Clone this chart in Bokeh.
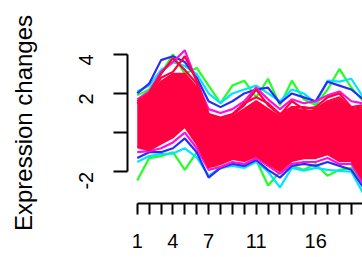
import math
from bokeh.plotting import figure
from bokeh.models import FixedTicker, Range1d
from bokeh.embed import file_html
from bokeh.resources import INLINE

# time points
time = list(range(1, 21))

# membership-coloured expression profiles
green_hi = [1.9, 2.2, 3.0, 4.0, 3.0, 3.3, 2.4, 1.5, 2.4, 2.65, 1.8, 2.75, 1.4, 2.65, 1.7, 1.4, 2.2, 3.25, 2.3, 1.6]
green_lo = [-2.45, -1.3, -1.2, -1.0, -1.9, -1.0, -1.6, -1.85, -1.6, -1.7, -1.4, -2.7, -2.0, -1.7, -1.9, -1.6, -2.2, -1.9, -1.8, -2.6]
cyan_hi = [2.1, 2.4, 3.2, 3.6, 3.4, 3.0, 2.0, 1.5, 2.0, 2.2, 2.4, 2.0, 1.6, 2.2, 2.0, 1.5, 2.65, 2.6, 2.75, 1.8]
cyan_lo = [-1.5, -1.2, -1.1, -1.07, -0.8, -1.27, -2.2, -1.8, -1.7, -1.8, -1.5, -2.0, -2.8, -1.8, -1.95, -1.8, -1.9, -1.95, -2.0, -3.1]
blue_hi = [2.0, 2.5, 3.7, 3.9, 3.6, 2.8, 1.6, 1.3, 1.6, 2.0, 2.2, 2.3, 1.5, 2.0, 1.8, 1.6, 2.6, 2.4, 2.2, 1.7]
blue_lo = [-1.3, -1.0, -1.0, -0.8, -0.3, -1.0, -2.3, -1.8, -1.6, -1.7, -1.4, -1.9, -2.3, -1.7, -1.6, -1.7, -1.5, -1.7, -1.9, -2.8]
magenta_hi = [1.7, 2.1, 3.1, 3.6, 4.2, 2.6, 1.2, 1.0, 1.2, 1.6, 2.3, 1.7, 1.2, 1.7, 1.5, 1.6, 1.9, 2.1, 1.6, 1.5]
magenta_lo = [-1.0, -0.95, -0.8, -0.5, 0.0, -0.8, -1.9, -1.75, -1.5, -1.6, -1.3, -1.7, -2.1, -1.6, -1.5, -1.5, -1.3, -1.6, -1.6, -2.6]
red_peak4 = [1.6, 2.0, 3.0, 3.8, 3.2, 2.5, 0.9, 0.7, 0.9, 1.4, 2.2, 1.4, 0.9, 1.6, 1.2, 1.3, 1.8, 2.0, 1.3, 1.4]
red_peak5 = [1.5, 1.9, 2.8, 3.1, 3.9, 2.65, 0.95, 0.77, 0.95, 1.5, 1.8, 1.5, 0.95, 1.3, 1.3, 1.2, 1.6, 1.8, 1.2, 1.3]
red_core_hi = [1.5, 1.8, 2.6, 3.0, 3.0, 2.3, 0.8, 0.6, 0.8, 1.2, 1.6, 1.2, 0.8, 1.3, 1.1, 1.1, 1.5, 1.7, 1.1, 1.2]
red_core_lo = [-0.75, -0.9, -0.56, -0.24, 0.3, -0.57, -1.77, -1.6, -1.35, -1.45, -1.2, -1.6, -1.95, -1.45, -1.3, -1.3, -1.1, -1.45, -1.45, -2.45]

y_tick_values = [-2, 0, 2, 4]
y_tick_labels = ["-2", "", "2", "4"]
x_tick_values = list(range(1, 25))
x_tick_labelled = [1, 4, 7, 11, 16, 21]

GREEN = "#22ff22"
CYAN = "#00e5ff"
BLUE = "#2a2aff"
MAGENTA = "#ff10d8"
RED = "#ff0040"

p = figure(width=362, height=257, output_backend="svg", toolbar_location=None,
           x_range=Range1d(0.18, 19.94), y_range=Range1d(-3.62, 4.6),
           min_border_left=127, min_border_right=0, min_border_top=42, min_border_bottom=54)
p.outline_line_color = None
p.xgrid.visible = False
p.ygrid.visible = False
p.background_fill_color = "white"

lw = 2.2
for series, col in [(green_hi, GREEN), (green_lo, GREEN), (cyan_hi, CYAN), (cyan_lo, CYAN),
                    (blue_hi, BLUE), (blue_lo, BLUE), (magenta_hi, MAGENTA), (magenta_lo, MAGENTA)]:
    p.line(time, series, line_color=col, line_width=lw)

p.varea(x=time, y1=red_core_lo, y2=red_core_hi, fill_color=RED)
for series in [red_peak4, red_peak5, red_core_hi, red_core_lo]:
    p.line(time, series, line_color=RED, line_width=lw)

FONT = "Liberation Sans"
# y axis
ya = p.yaxis[0]
ya.ticker = FixedTicker(ticks=y_tick_values)
ya.major_label_overrides = {v: l for v, l in zip(y_tick_values, y_tick_labels)}
ya.bounds = (min(y_tick_values), max(y_tick_values))
ya.minor_tick_line_color = None
ya.major_tick_out = 14
ya.major_tick_in = 0
ya.axis_line_width = 2
ya.major_tick_line_width = 2
ya.major_label_orientation = math.pi / 2
ya.major_label_text_font = FONT
ya.major_label_text_font_size = "20px"
ya.major_label_text_color = "black"
ya.major_label_standoff = 27
ya.axis_label = "Expression changes"
ya.axis_label_text_font = FONT
ya.axis_label_text_font_size = "24px"
ya.axis_label_text_font_style = "normal"
ya.axis_label_text_color = "black"
ya.axis_label_standoff = 33

# x axis
xa = p.xaxis[0]
xa.ticker = FixedTicker(ticks=x_tick_values)
xa.major_label_overrides = {v: (str(v) if v in x_tick_labelled else "") for v in x_tick_values}
xa.bounds = (min(x_tick_values), max(x_tick_values))
xa.minor_tick_line_color = None
xa.major_tick_out = 11
xa.major_tick_in = 0
xa.axis_line_width = 2
xa.major_tick_line_width = 2
xa.major_label_text_font = FONT
xa.major_label_text_font_size = "20px"
xa.major_label_text_color = "black"
xa.major_label_standoff = 19

open("out.html", "w").write(file_html(p, INLINE))
